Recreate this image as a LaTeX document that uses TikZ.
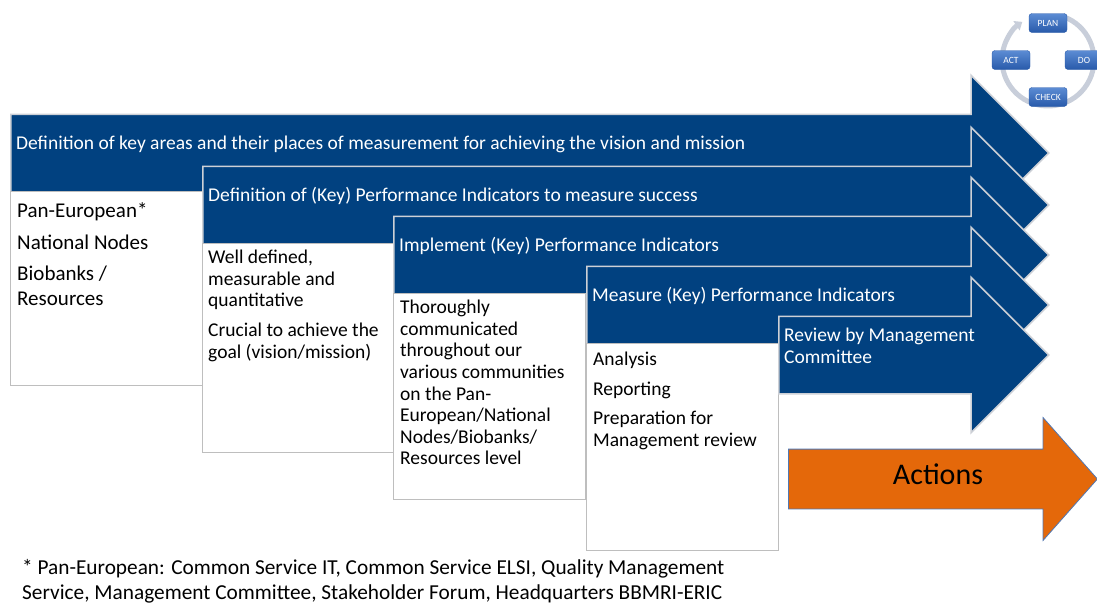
\documentclass[tikz,border=0pt]{standalone}
\usepackage{fontspec}
\setmainfont{Carlito}
\usetikzlibrary{shapes.arrows,arrows.meta}

\definecolor{kpiblue}{RGB}{1,65,128}
\definecolor{edgegray}{RGB}{205,208,214}
\definecolor{boxgray}{RGB}{190,190,190}
\definecolor{actorange}{RGB}{228,104,10}
\definecolor{actedge}{RGB}{80,120,180}
\definecolor{ringgray}{RGB}{200,206,218}
\definecolor{pdcatop}{RGB}{92,140,212}
\definecolor{pdcabottom}{RGB}{40,90,170}

\begin{document}
\begin{tikzpicture}[
        x=1pt, y=-1pt,
        kpiarrow/.style={single arrow, single arrow head extend=39pt,
            single arrow head indent=0pt, inner xsep=0pt, inner ysep=38pt,
            anchor=tail, fill=kpiblue, draw=edgegray, line width=1.5pt},
        kpibox/.style={rectangle, anchor=north west, minimum width=192pt,
            fill=white, draw=boxgray, line width=1.2pt, inner sep=0pt},
        headtext/.style={anchor=west, align=left, inner sep=0pt, text=white,
            font=\fontsize{19.5}{21.6}\selectfont},
        boxtext/.style={anchor=north west, align=left, inner sep=0pt,
            font=\fontsize{19.5}{21.6}\selectfont},
        pdcabox/.style={rectangle, rounded corners=3pt, minimum width=38pt,
            minimum height=19pt, inner sep=0pt, top color=pdcatop,
            bottom color=pdcabottom, draw=pdcabottom, text=white,
            font=\fontsize{9.5}{10}\selectfont},
        ring/.style={draw=ringgray, line width=5pt},
    ]
    \useasboundingbox (0,0) rectangle (1097,605);

    % arrows with their boxes below
    \foreach \i/\x/\y/\h in {1/10/153/194, 2/202/205/209, 3/393/255/206, 4/586/305/207}{
        \node[kpiarrow, minimum height={1048-\x}] (a\i) at (\x,\y) {};
        \node[kpibox, minimum height=\h] (b\i) at ([yshift=-38pt]a\i.tail) {};
    }
    \node[kpiarrow, minimum height=270] (a5) at (778,355) {};

    \node[headtext] (t1) at ([xshift=6pt,yshift=9pt]a1.tail)
        {Definition of key areas and their places of measurement for achieving the vision and mission};
    \node[headtext] (t2) at ([xshift=6pt,yshift=9pt]a2.tail)
        {Definition of (Key) Performance Indicators to measure success};
    \node[headtext] (t3) at ([xshift=6pt,yshift=9pt]a3.tail)
        {Implement (Key) Performance Indicators};
    \node[headtext] (t4) at ([xshift=6pt,yshift=9pt]a4.tail)
        {Measure (Key) Performance Indicators};
    \node[headtext] (t5) at ([xshift=6pt,yshift=9pt]a5.tail)
        {Review by Management\\Committee};

    \node[boxtext, font=\fontsize{21}{25}\selectfont] (p1) at ([xshift=7pt,yshift=-11pt]b1.north west)
        {Pan-European*\\[7pt]National Nodes\\[6pt]Biobanks /\\Resources};
    \node[boxtext] (p2) at ([xshift=6pt,yshift=-7pt]b2.north west)
        {Well defined,\\measurable and\\quantitative\\[8.4pt]Crucial to achieve the\\goal (vision/mission)};
    \node[boxtext] (p3) at ([xshift=7pt,yshift=-7pt]b3.north west)
        {Thoroughly\\communicated\\throughout our\\various communities\\on the Pan-\\European/National\\Nodes/Biobanks/\\Resources level};
    \node[boxtext] (p4) at ([xshift=7pt,yshift=-9pt]b4.north west)
        {Analysis\\[8pt]Reporting\\[7.5pt]Preparation for\\Management review};

    % actions
    \node[single arrow, single arrow head extend=31.5pt, single arrow head indent=0pt,
        single arrow tip angle=97, minimum height=309pt, inner xsep=0pt,
        inner ysep=29.5pt, anchor=tail, fill=actorange, draw=actedge,
        line width=0.8pt] (act) at (788,479) {};
    \node[inner sep=0pt, font=\fontsize{30}{36}\selectfont] (acttext)
        at ([xshift=150pt,yshift=5pt]act.tail) {Actions};

    % footnote
    \node[anchor=north west, align=left, inner sep=0pt,
        font=\fontsize{21.3}{25}\selectfont] (note) at (22,559)
        {* Pan-European: Common Service IT, Common Service ELSI, Quality Management\\
         Service, Management Committee, Stakeholder Forum, Headquarters BBMRI-ERIC};

    % PDCA cycle
    \coordinate (pd) at (1048,60);
    \draw[ring, -{Triangle[width=11pt,length=7pt]}] ([shift={(70:46pt)}]pd)
        arc[start angle=70, end angle=-236, radius=46pt];
    \node[pdcabox] (plan) at (1048,23) {PLAN};
    \node[pdcabox] (do) at (1084,60) {DO};
    \node[pdcabox] (check) at (1048,97) {CHECK};
    \node[pdcabox] (actb) at (1011,60) {ACT};
\end{tikzpicture}
\end{document}
